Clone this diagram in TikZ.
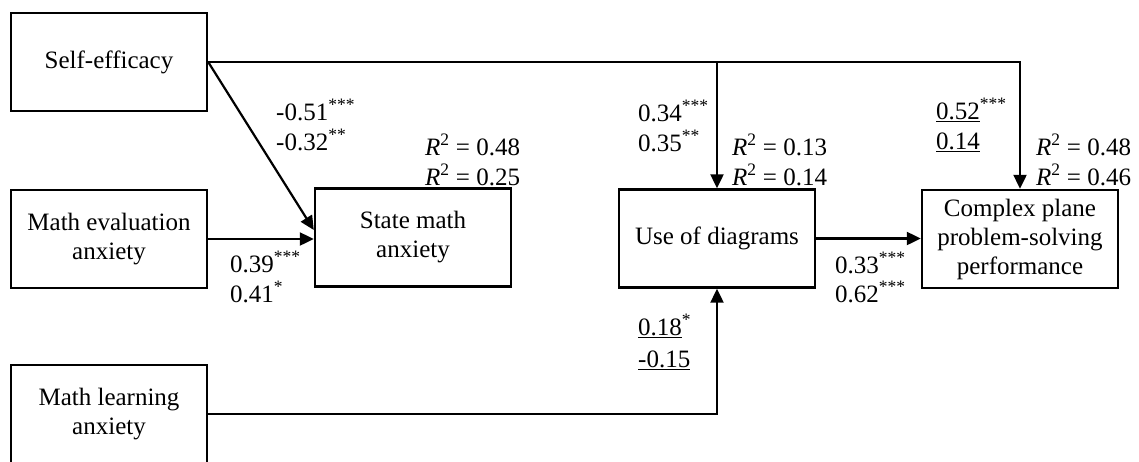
\documentclass[tikz,border=0pt]{standalone}
\usepackage{fontspec}
\setmainfont{Liberation Serif}
\usetikzlibrary{arrows.meta,calc}
\begin{document}
\begin{tikzpicture}[x=1pt,y=-1pt,
  box/.style={draw,line width=2.4pt,rectangle,minimum width=196pt,minimum height=98pt,
    inner sep=0pt,align=center,font=\fontsize{25}{29}\selectfont},
  lab/.style={anchor=base west,inner sep=0pt,font=\fontsize{25}{30}\selectfont},
  conn/.style={line width=2.2pt,-{Triangle[length=14pt,width=13pt]}},
  plain/.style={line width=2.2pt}]
\useasboundingbox (0,0) rectangle (1139,461);
\clip (0,0) rectangle (1139,461);
\node[box] (se)  at (109,62)    {Self-efficacy};
\node[box] (mea) at (109,239)   {Math evaluation\\anxiety};
\node[box] (mla) at (109,414)   {Math learning\\anxiety};
\node[box] (sma) at (413,237.5) {State math\\anxiety};
\node[box] (uod) at (717,238.5) {Use of diagrams};
\node[box] (cpp) at (1020,239)  {Complex plane\\problem-solving\\performance};
% connectors
\draw[conn] (se.east) -| (cpp.north);
\draw[conn] (uod.north |- se.east) -- (uod.north);
\coordinate (tip) at ([yshift=7.5pt]sma.west);
\draw[conn] (se.east) -- (tip);
\draw[conn] (mea.east) -- (mea.east -| sma.west);
\draw[conn] (uod.east) -- (uod.east -| cpp.west);
\draw[conn] (mla.east) -| (uod.south);
% labels
\node[lab] (a1) at (276,120) {-0.51\textsuperscript{***}};
\node[lab] (a2) at (276,150) {-0.32\textsuperscript{**}};
\node[lab] (b1) at (230,272) {0.39\textsuperscript{***}};
\node[lab] (b2) at (230,302) {0.41\textsuperscript{*}};
\node[lab] (r1) at (425,155) {\textit{R}\textsuperscript{2} = 0.48};
\node[lab] (r2) at (425,185) {\textit{R}\textsuperscript{2} = 0.25};
\node[lab] (c1) at (638,121) {0.34\textsuperscript{***}};
\node[lab] (c2) at (638,151) {0.35\textsuperscript{**}};
\node[lab] (r3) at (732,155) {\textit{R}\textsuperscript{2} = 0.13};
\node[lab] (r4) at (732,185) {\textit{R}\textsuperscript{2} = 0.14};
\node[lab] (d1) at (835,273) {0.33\textsuperscript{***}};
\node[lab] (d2) at (835,302) {0.62\textsuperscript{***}};
\node[lab] (e1) at (638,335) {\underline{0.18}\textsuperscript{*}};
\node[lab] (e2) at (638,367) {\underline{-0.15}};
\node[lab] (f1) at (936,119) {\underline{0.52}\textsuperscript{***}};
\node[lab] (f2) at (936,149) {\underline{0.14}};
\node[lab] (r5) at (1036,155) {\textit{R}\textsuperscript{2} = 0.48};
\node[lab] (r6) at (1036,185) {\textit{R}\textsuperscript{2} = 0.46};
\end{tikzpicture}
\end{document}
